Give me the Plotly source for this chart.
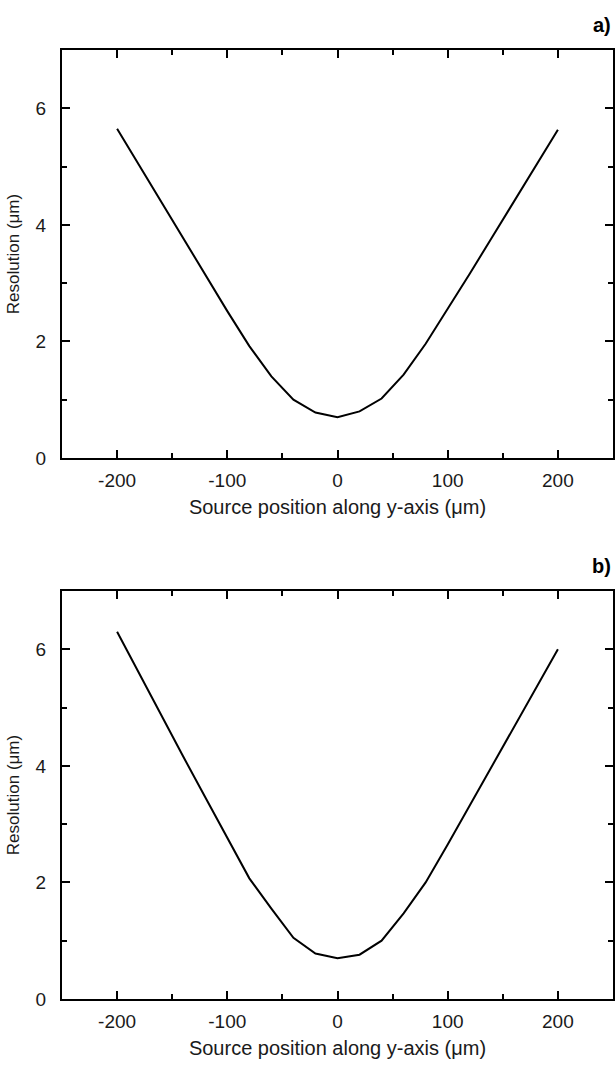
import plotly.graph_objects as go
from plotly.subplots import make_subplots

# Data
positions = [-200, -180, -160, -140, -120, -100, -80, -60, -40, -20, 0,
             20, 40, 60, 80, 100, 120, 140, 160, 180, 200]
resolution_a = [5.65, 5.02, 4.39, 3.77, 3.15, 2.52, 1.92, 1.40, 1.00, 0.78, 0.70,
                0.80, 1.02, 1.43, 1.96, 2.55, 3.16, 3.78, 4.40, 5.01, 5.63]
resolution_b = [6.30, 5.58, 4.87, 4.16, 3.46, 2.76, 2.07, 1.55, 1.05, 0.78, 0.70,
                0.76, 1.00, 1.47, 2.00, 2.65, 3.32, 3.99, 4.66, 5.33, 6.00]
panel_labels = ["a)", "b)"]
x_title = "Source position along y-axis (\u03bcm)"
y_title = "Resolution (\u03bcm)"
x_ticks = [-200, -100, 0, 100, 200]
x_minor = [-150, -50, 50, 150]
y_ticks = [0, 2, 4, 6]
y_minor = [1, 3, 5]

W, H = 616, 1066
mt, mb = 50, 67
fig = make_subplots(rows=2, cols=1, vertical_spacing=0.14)

for i, vals in enumerate([resolution_a, resolution_b], start=1):
    fig.add_trace(go.Scatter(x=positions, y=vals, mode="lines",
                             line=dict(color="black", width=2),
                             showlegend=False), row=i, col=1)

FAM = "Liberation Sans, Arial, sans-serif"
tick_font = dict(family=FAM, size=19, color="#1a1a1a")
xt_font = dict(family=FAM, size=20, color="#1a1a1a")
yt_font = dict(family=FAM, size=17, color="#1a1a1a")
axis_common = dict(showline=True, linecolor="black", linewidth=2, mirror="allticks",
                   ticks="inside", ticklen=8, tickwidth=2, tickcolor="black",
                   showgrid=False, zeroline=False, tickfont=tick_font)

plot_h = H - mt - mb
pa = (50, 458)
pb = (591, 999)
def dom(p):
    return [(H - mb - p[1]) / plot_h, (H - mb - p[0]) / plot_h]

for i, p in zip([1, 2], [pa, pb]):
    xa = "xaxis" if i == 1 else "xaxis2"
    ya = "yaxis" if i == 1 else "yaxis2"
    fig.layout[xa].update(range=[-250, 250], tickvals=x_ticks, ticktext=[str(v) for v in x_ticks],
                          ticklabelstandoff=4,
                          minor=dict(ticks="inside", ticklen=5, tickwidth=2, tickcolor="black",
                                     tickvals=x_minor, showgrid=False),
                          title=dict(text=x_title, font=xt_font, standoff=10), **axis_common)
    fig.layout[ya].update(range=[0, 7], tickvals=y_ticks, domain=dom(p),
                          ticklabelstandoff=10,
                          minor=dict(ticks="inside", ticklen=5, tickwidth=2, tickcolor="black",
                                     tickvals=y_minor, showgrid=False),
                          title=dict(text=y_title, font=yt_font, standoff=12), **axis_common)

for lab, p in zip(panel_labels, [pa, pb]):
    fig.add_annotation(text="<b>%s</b>" % lab, xref="paper", yref="paper",
                       x=1.0, y=(H - mb - (p[0] - 25)) / plot_h, xanchor="right", yanchor="middle",
                       showarrow=False, font=dict(family=FAM, size=20, color="black"))

fig.update_layout(width=W, height=H, margin=dict(l=62, r=1, t=mt, b=mb),
                  plot_bgcolor="white", paper_bgcolor="white")
fig.write_html("out.html", config={"displayModeBar": False},
               post_script="document.body.style.margin='0';document.body.style.overflow='hidden';")
